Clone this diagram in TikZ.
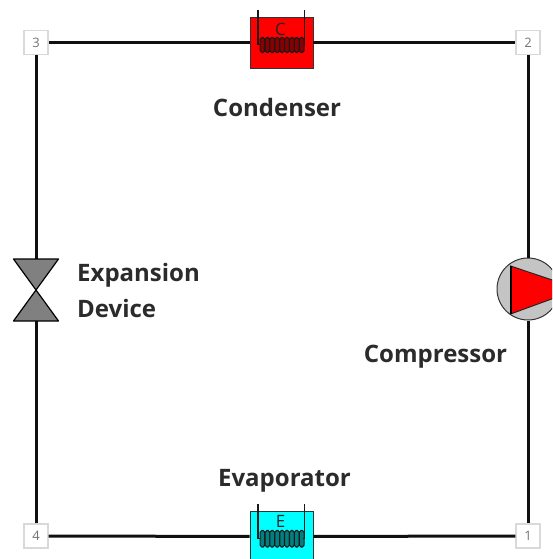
\documentclass[tikz,border=0pt]{standalone}
\usepackage{fontspec}
\setmainfont{Open Sans}
\definecolor{pipe}{HTML}{101010}
\definecolor{labelc}{HTML}{2B2B2B}
\definecolor{valvegrey}{HTML}{808080}
\definecolor{compgrey}{HTML}{C4C4C4}
\definecolor{coilred}{HTML}{8A0000}
\definecolor{coilteal}{HTML}{008080}
\definecolor{unitred}{HTML}{FF0000}
\definecolor{unitcyan}{HTML}{00FFFF}
\tikzset{
  x=1pt,y=-1pt,
  statebox/.style={draw=black!15,line width=1.2pt,fill=white,minimum size=24pt,inner sep=0pt,text=black!55,font=\fontsize{13}{13}\selectfont},
  pipeline/.style={draw=pipe,line width=3pt},
  unitbox/.style={draw=black!80,line width=0.9pt,minimum width=63pt,minimum height=51pt,inner sep=0pt},
  unitletter/.style={inner sep=0pt,text=black!85,font=\fontsize{17}{17}\selectfont},
  caption/.style={inner sep=0pt,align=left,text=labelc,font=\fontsize{24}{36}\selectfont\bfseries},
  coilwire/.style={draw=black!90,line width=1.1pt},
  valvepart/.style={fill=valvegrey,draw=black,line width=1.2pt,line join=round},
}
\newcommand{\coil}[3]{% top y, bottom y, fill
  \foreach \i in {0,...,8}{
    \pgfmathsetmacro{\cx}{262.5+\i*4.9}
    \draw[coilwire,fill=#3,rounded corners=1.8pt] (\cx-2.4,#1) rectangle (\cx+2.4,#2);
  }
}
\begin{document}
\begin{tikzpicture}
\useasboundingbox (0,0) rectangle (552,559);
\clip (0,0) rectangle (552,559);
% state points
\node[statebox] (s3) at (36,42.5) {3};
\node[statebox] (s2) at (528,42.5) {2};
\node[statebox] (s1) at (528,536) {1};
\node[statebox] (s4) at (36,536) {4};
% units
\node[unitbox,fill=unitred] (cond) at (281.5,42.5) {};
\node[unitbox,fill=unitcyan] (evap) at (281.5,536.5) {};
\coordinate (vtop) at (36,259);
\coordinate (vbot) at (36,321);
\coordinate (vmid) at (36,290);
\node[circle,draw=black!80,fill=compgrey,line width=1pt,minimum size=62pt,inner sep=0pt] (comp) at (528,289) {};
% connectors
\draw[pipeline] (s3) -- (cond);
\draw[pipeline] (cond) -- (s2);
\draw[pipeline] (s2) -- (comp);
\draw[pipeline] (comp) -- (s1);
\draw[pipeline] (s1) -- (evap);
\draw[pipeline] (evap) -- (s4);
\draw[pipeline] (s4) -- (vbot);
\draw[pipeline] (vtop) -- (s3);
% condenser details
\coil{37.5}{52.5}{coilred}
\draw[coilwire] (258,10) -- (258,44.5) -- (260,44.5);
\draw[coilwire] (304.5,10) -- (304.5,44.5) -- (303,44.5);
\node[unitletter] (cletter) at (280.5,29.5) {C};
% evaporator details
\coil{530.5}{547}{coilteal}
\draw[coilwire] (258,504) -- (258,538.5) -- (260,538.5);
\draw[coilwire] (304.5,504) -- (304.5,538.5) -- (303,538.5);
\node[unitletter] (eletter) at (280.5,521.5) {E};
% valve
\draw[valvepart] (13.5,259) -- (58.5,259) -- (vmid) -- cycle;
\draw[valvepart] (13.5,321) -- (58.5,321) -- (vmid) -- cycle;
% compressor rotor
\draw[fill=unitred,draw=black!85,line width=1pt] (510.5,266) -- (579,289) -- (510.5,314) -- cycle;
\draw[draw=black,line width=2pt] (510.5,266) -- (510.5,314);
% captions
\node[caption] (lcond) at (277,107.5) {Condenser};
\node[caption,anchor=west] (lexp) at (77,290.5) {Expansion\\Device};
\node[caption] (lcomp) at (435.5,357) {Compressor};
\node[caption] (levap) at (284.5,481) {Evaporator};
\end{tikzpicture}
\end{document}
